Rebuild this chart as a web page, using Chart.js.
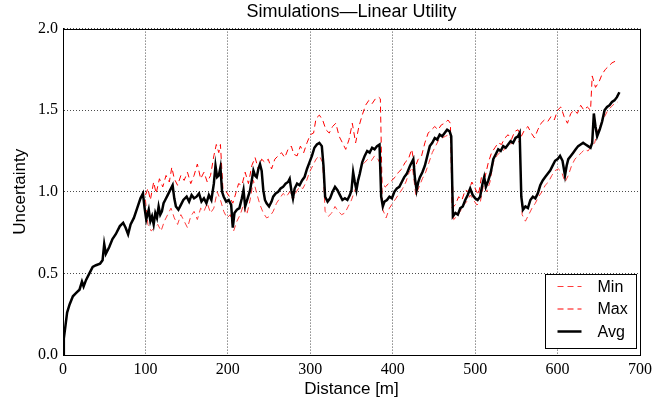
<!DOCTYPE html>
<html lang="en">
<head>
    <meta charset="UTF-8">
    <title>Simulations - Linear Utility</title>
    <script src="https://cdn.jsdelivr.net/npm/chart.js"></script>
    <style>
        html, body { margin: 0; padding: 0; background: #ffffff; }
        .chart-container { position: relative; width: 660px; height: 404px; }
    </style>
</head>
<body>
    <div class="chart-container">
        <canvas id="uncertaintyChart" width="660" height="404"></canvas>
    </div>
    <script>
        // Axis ticks
        const xTicks = [0, 100, 200, 300, 400, 500, 600, 700];
        const yTicks = [0.0, 0.5, 1.0, 1.5, 2.0];

        // Avg series (distance in m, uncertainty)
        const avgDist = [
            0, 1, 3, 5, 8, 12, 16, 20, 23, 25,
            28, 32, 36, 40, 45, 48, 50, 52, 56, 60,
            64, 69, 73, 76, 79, 82, 86, 90, 94, 97,
            99, 101, 104, 106, 108, 110, 112, 114, 116, 118,
            120, 122, 124, 127, 130, 133, 135, 137, 140, 143,
            146, 150, 153, 156, 159, 162, 165, 168, 171, 174,
            177, 180, 183, 185, 187, 189, 191, 193, 195, 198,
            201, 204, 206, 208, 211, 214, 217, 219, 221, 224,
            227, 229, 231, 233, 235, 237, 239, 241, 243, 245,
            247, 250, 253, 255, 258, 261, 264, 267, 270, 273,
            275, 277, 279, 281, 284, 287, 290, 293, 296, 299,
            302, 305, 308, 311, 314, 316, 318, 321, 324, 327,
            330, 333, 336, 339, 342, 345, 348, 350, 352, 354,
            356, 358, 360, 363, 366, 369, 372, 375, 378, 381,
            384, 386, 388, 390, 393, 396, 399, 402, 405, 408,
            411, 414, 417, 421, 425, 427, 429, 431, 433, 436,
            439, 442, 445, 448, 451, 454, 457, 460, 463, 466,
            469, 471, 473, 476, 479, 482, 485, 488, 491, 494,
            497, 500, 503, 506, 509, 511, 513, 516, 519, 522,
            525, 528, 531, 534, 537, 540, 543, 546, 549, 552,
            554, 556, 558, 561, 564, 567, 570, 573, 576, 579,
            582, 585, 588, 591, 594, 597, 600, 603, 606, 609,
            611, 613, 616, 619, 622, 625, 628, 631, 634, 637,
            640, 642, 644, 646, 648, 651, 654, 657, 660, 663,
            666, 669, 672, 675
        ];
        const avgVals = [
            0.00, 0.10, 0.18, 0.26, 0.31, 0.36, 0.38, 0.40, 0.45, 0.42,
            0.46, 0.50, 0.54, 0.55, 0.56, 0.58, 0.68, 0.62, 0.66, 0.71,
            0.74, 0.79, 0.81, 0.78, 0.74, 0.80, 0.84, 0.90, 0.96, 0.99,
            0.90, 0.83, 0.89, 0.82, 0.85, 0.80, 0.87, 0.84, 0.91, 0.86,
            0.88, 0.93, 0.95, 0.98, 1.01, 1.04, 0.96, 0.91, 0.89, 0.92,
            0.95, 0.97, 0.94, 0.98, 0.96, 0.97, 0.99, 0.94, 0.96, 0.93,
            0.98, 0.95, 1.05, 1.16, 1.09, 1.10, 1.15, 1.00, 0.97, 0.94,
            0.95, 0.92, 0.78, 0.87, 0.89, 0.90, 0.96, 1.01, 0.91, 0.96,
            1.01, 1.07, 1.13, 1.10, 1.09, 1.14, 1.17, 1.13, 1.01, 0.95,
            0.93, 0.91, 0.94, 0.97, 0.99, 1.00, 1.02, 1.03, 1.05, 1.06,
            1.08, 1.01, 0.96, 1.02, 1.05, 1.04, 1.07, 1.09, 1.14, 1.18,
            1.22, 1.27, 1.29, 1.30, 1.28, 1.16, 0.97, 0.94, 0.96, 1.00,
            1.03, 1.01, 0.98, 0.95, 0.96, 0.95, 0.98, 1.01, 1.12, 1.06,
            1.01, 1.07, 1.11, 1.18, 1.22, 1.25, 1.24, 1.27, 1.26, 1.28,
            1.29, 0.97, 0.91, 0.94, 0.95, 0.97, 0.96, 1.00, 1.02, 1.03,
            1.06, 1.09, 1.11, 1.16, 1.20, 1.08, 1.01, 1.06, 1.09, 1.12,
            1.16, 1.22, 1.28, 1.30, 1.33, 1.32, 1.35, 1.34, 1.36, 1.38,
            1.37, 1.34, 0.85, 0.87, 0.86, 0.90, 0.91, 0.95, 0.98, 1.02,
            0.98, 0.96, 0.95, 0.97, 1.05, 1.09, 1.03, 1.07, 1.12, 1.20,
            1.23, 1.26, 1.25, 1.28, 1.27, 1.29, 1.31, 1.30, 1.33, 1.34,
            1.36, 0.97, 0.89, 0.91, 0.90, 0.95, 0.97, 0.96, 0.99, 1.04,
            1.07, 1.09, 1.11, 1.13, 1.16, 1.19, 1.20, 1.22, 1.19, 1.10,
            1.16, 1.20, 1.22, 1.24, 1.26, 1.28, 1.29, 1.30, 1.29, 1.28,
            1.27, 1.30, 1.48, 1.40, 1.34, 1.38, 1.43, 1.50, 1.52, 1.53,
            1.55, 1.56, 1.58, 1.61
        ];

        // Max series
        const maxDist = [
            100, 103, 106, 110, 113, 117, 121, 125, 129, 132,
            135, 139, 143, 147, 151, 155, 159, 163, 167, 171,
            175, 179, 183, 186, 189, 191, 194, 198, 202, 206,
            209, 213, 217, 221, 225, 229, 233, 237, 241, 245,
            249, 253, 257, 261, 265, 269, 273, 277, 280, 284,
            288, 292, 296, 300, 304, 307, 311, 315, 319, 323,
            327, 331, 335, 339, 343, 347, 351, 355, 359, 363,
            367, 371, 375, 379, 383, 385, 387, 391, 395, 399,
            403, 407, 411, 415, 419, 423, 427, 431, 435, 439,
            443, 447, 451, 455, 459, 463, 467, 470, 472, 476,
            480, 484, 488, 492, 496, 500, 504, 508, 512, 516,
            520, 524, 528, 532, 536, 540, 544, 548, 552, 556,
            560, 564, 568, 572, 576, 580, 584, 588, 592, 596,
            600, 604, 608, 612, 616, 620, 624, 628, 632, 636,
            640, 642, 646, 650, 654, 658, 662, 666, 670, 674
        ];
        const maxVals = [
            0.98, 1.02, 0.95, 1.06, 0.99, 1.08, 1.03, 1.10, 1.06, 1.15,
            1.08, 1.04, 1.10, 1.07, 1.12, 1.05, 1.10, 1.17, 1.08, 1.12,
            1.06, 1.10, 1.22, 1.29, 1.24, 1.29, 1.02, 1.00, 0.97, 0.93,
            0.98, 1.05, 1.04, 1.12, 1.05, 1.16, 1.21, 1.14, 1.20, 1.18,
            1.20, 1.14, 1.20, 1.22, 1.24, 1.21, 1.26, 1.28, 1.23, 1.22,
            1.28, 1.24, 1.30, 1.35, 1.36, 1.45, 1.47, 1.44, 1.38, 1.36,
            1.40, 1.42, 1.34, 1.30, 1.26, 1.32, 1.42, 1.30, 1.40, 1.47,
            1.53, 1.56, 1.54, 1.57, 1.58, 1.57, 1.05, 1.03, 1.05, 1.07,
            1.09, 1.12, 1.14, 1.18, 1.20, 1.26, 1.15, 1.20, 1.22, 1.30,
            1.36, 1.38, 1.40, 1.38, 1.41, 1.42, 1.44, 1.42, 0.90, 0.92,
            0.97, 0.95, 1.01, 1.00, 1.06, 1.02, 0.98, 1.10, 1.09, 1.18,
            1.24, 1.27, 1.30, 1.29, 1.33, 1.35, 1.32, 1.37, 1.38, 1.34,
            1.38, 1.40, 1.36, 1.33, 1.38, 1.42, 1.44, 1.43, 1.46, 1.44,
            1.50, 1.52, 1.46, 1.42, 1.48, 1.50, 1.48, 1.53, 1.50, 1.52,
            1.50, 1.71, 1.64, 1.67, 1.72, 1.75, 1.77, 1.79, 1.80, 1.81
        ];

        // Min series
        const minDist = [
            100, 103, 107, 111, 115, 119, 123, 127, 131, 135,
            139, 143, 147, 151, 155, 159, 163, 167, 171, 175,
            179, 183, 187, 191, 195, 199, 203, 207, 211, 215,
            219, 223, 227, 231, 235, 239, 243, 247, 251, 255,
            259, 263, 267, 271, 275, 279, 283, 287, 291, 295,
            299, 303, 307, 311, 315, 318, 322, 326, 330, 334,
            338, 342, 346, 350, 354, 358, 362, 366, 370, 374,
            378, 382, 386, 388, 392, 396, 400, 404, 408, 412,
            416, 420, 424, 428, 432, 436, 440, 444, 448, 452,
            456, 460, 464, 468, 471, 474, 478, 482, 486, 490,
            494, 498, 502, 506, 510, 514, 518, 522, 526, 530,
            534, 538, 542, 546, 550, 554, 557, 561, 565, 569,
            573, 577, 581, 585, 589, 593, 597, 601, 605, 609,
            613, 617, 621, 625, 629, 633, 637, 641, 645, 649,
            653, 657, 661, 665, 669, 673
        ];
        const minVals = [
            0.95, 0.80, 0.76, 0.78, 0.80, 0.76, 0.82, 0.86, 0.90, 0.84,
            0.80, 0.86, 0.82, 0.78, 0.85, 0.88, 0.83, 0.90, 0.88, 0.93,
            0.87, 0.90, 1.00, 0.95, 0.88, 0.84, 0.86, 0.76, 0.82, 0.86,
            0.92, 0.86, 0.95, 1.07, 0.99, 0.92, 0.87, 0.84, 0.85, 0.88,
            0.93, 0.96, 0.99, 0.97, 1.00, 0.95, 1.00, 1.03, 1.02, 1.06,
            1.12, 1.16, 1.20, 1.22, 1.18, 0.88, 0.85, 0.87, 0.91, 0.88,
            0.86, 0.87, 0.91, 0.95, 1.01, 1.06, 1.16, 1.18, 1.20, 1.19,
            1.22, 1.20, 1.16, 0.89, 0.84, 0.90, 0.93, 0.96, 0.99, 1.02,
            1.06, 1.12, 1.15, 0.98, 1.03, 1.08, 1.12, 1.18, 1.24, 1.28,
            1.32, 1.33, 1.34, 1.35, 1.32, 0.83, 0.85, 0.88, 0.92, 0.94,
            0.98, 0.95, 0.92, 0.93, 1.04, 1.00, 1.06, 1.18, 1.22, 1.24,
            1.25, 1.28, 1.29, 1.30, 1.32, 1.30, 0.86, 0.82, 0.86, 0.90,
            0.93, 0.97, 1.00, 1.04, 1.06, 1.10, 1.13, 1.14, 1.12, 1.06,
            1.10, 1.16, 1.20, 1.22, 1.24, 1.26, 1.25, 1.28, 1.30, 1.38,
            1.42, 1.46, 1.50, 1.52, 1.54, 1.55
        ];

        const toPoints = (xs, ys) => xs.map((x, i) => ({ x: x, y: ys[i] }));

        const serifFont = "'Liberation Serif', 'DejaVu Serif', serif";
        const sansFont = "'Liberation Sans', Arial, sans-serif";

        // Box around the whole plot area, like matplotlib's axes frame
        const framePlugin = {
            id: 'frame',
            afterDraw(chart) {
                const { ctx, chartArea: a } = chart;
                ctx.save();
                ctx.strokeStyle = '#000000';
                ctx.lineWidth = 1;
                ctx.strokeRect(Math.round(a.left) + 0.5, Math.round(a.top) + 0.5,
                    Math.round(a.right - a.left), Math.round(a.bottom - a.top));
                ctx.restore();
            }
        };

        // Legend drawn inside the plot, lower right corner
        const insideLegend = {
            id: 'insideLegend',
            afterDraw(chart) {
                const { ctx, chartArea: a } = chart;
                const boxW = 91, boxH = 74;
                const x0 = Math.round(a.right - boxW - 4) + 0.5;
                const y0 = Math.round(a.bottom - boxH - 7) + 0.5;
                ctx.save();
                ctx.fillStyle = '#ffffff';
                ctx.fillRect(x0, y0, boxW, boxH);
                ctx.strokeStyle = '#000000';
                ctx.lineWidth = 1;
                ctx.strokeRect(x0, y0, boxW, boxH);
                ctx.font = '16px ' + sansFont;
                ctx.textBaseline = 'middle';
                chart.data.datasets.forEach((ds, i) => {
                    const y = y0 + 12 + i * 22.5;
                    ctx.beginPath();
                    ctx.strokeStyle = ds.borderColor;
                    ctx.lineWidth = ds.borderWidth;
                    ctx.setLineDash(ds.borderDash || []);
                    ctx.moveTo(x0 + 12, y);
                    ctx.lineTo(x0 + 36, y);
                    ctx.stroke();
                    ctx.setLineDash([]);
                    ctx.fillStyle = '#000000';
                    ctx.fillText(ds.label, x0 + 52, y + 1);
                });
                ctx.restore();
            }
        };

        const axisGrid = {
            color: 'rgba(0, 0, 0, 0.7)',
            lineWidth: 1,
            drawTicks: false
        };

        const ctx = document.getElementById('uncertaintyChart').getContext('2d');
        const uncertaintyChart = new Chart(ctx, {
            type: 'line',
            data: {
                datasets: [
                    {
                        label: 'Min',
                        data: toPoints(minDist, minVals),
                        borderColor: '#ff3b3b',
                        borderWidth: 1,
                        borderDash: [6, 4],
                        pointRadius: 0,
                        fill: false,
                        tension: 0,
                        order: 2
                    },
                    {
                        label: 'Max',
                        data: toPoints(maxDist, maxVals),
                        borderColor: '#ff0000',
                        borderWidth: 1,
                        borderDash: [6, 4],
                        pointRadius: 0,
                        fill: false,
                        tension: 0,
                        order: 1
                    },
                    {
                        label: 'Avg',
                        data: toPoints(avgDist, avgVals),
                        borderColor: '#000000',
                        borderWidth: 2.5,
                        pointRadius: 0,
                        fill: false,
                        tension: 0,
                        order: 0
                    }
                ]
            },
            options: {
                responsive: false,
                animation: false,
                devicePixelRatio: 1,
                layout: { padding: { left: 0, right: 20, top: 0, bottom: 0 } },
                scales: {
                    x: {
                        type: 'linear',
                        min: 0,
                        max: 700,
                        afterBuildTicks: (scale) => { scale.ticks = xTicks.map(v => ({ value: v })); },
                        afterFit: (scale) => { scale.height = 49; },
                        grid: axisGrid,
                        border: { display: true, color: '#000000', width: 1, dash: [1, 2] },
                        ticks: {
                            color: '#000000',
                            font: { family: serifFont, size: 16 },
                            padding: 5,
                            maxRotation: 0,
                            callback: (v) => String(v)
                        },
                        title: {
                            display: true,
                            text: 'Distance [m]',
                            color: '#000000',
                            font: { family: sansFont, size: 17 },
                            padding: { top: 0, bottom: 4 }
                        }
                    },
                    y: {
                        min: 0,
                        max: 2,
                        afterBuildTicks: (scale) => { scale.ticks = yTicks.map(v => ({ value: v })); },
                        afterFit: (scale) => { scale.width = 63; },
                        grid: axisGrid,
                        border: { display: true, color: '#000000', width: 1, dash: [1, 2] },
                        ticks: {
                            color: '#000000',
                            font: { family: serifFont, size: 16 },
                            padding: 5,
                            callback: (v) => Number(v).toFixed(1)
                        },
                        title: {
                            display: true,
                            text: 'Uncertainty',
                            color: '#000000',
                            font: { family: sansFont, size: 17 },
                            padding: { top: 10, bottom: 0 }
                        }
                    }
                },
                plugins: {
                    legend: { display: false },
                    tooltip: { enabled: false },
                    title: {
                        display: true,
                        text: 'Simulations\u2014Linear Utility',
                        fullSize: false,
                        color: '#000000',
                        font: { family: sansFont, size: 18, weight: 'normal' },
                        padding: { top: 1, bottom: 6 }
                    }
                }
            },
            plugins: [framePlugin, insideLegend]
        });
    </script>
</body>
</html>
